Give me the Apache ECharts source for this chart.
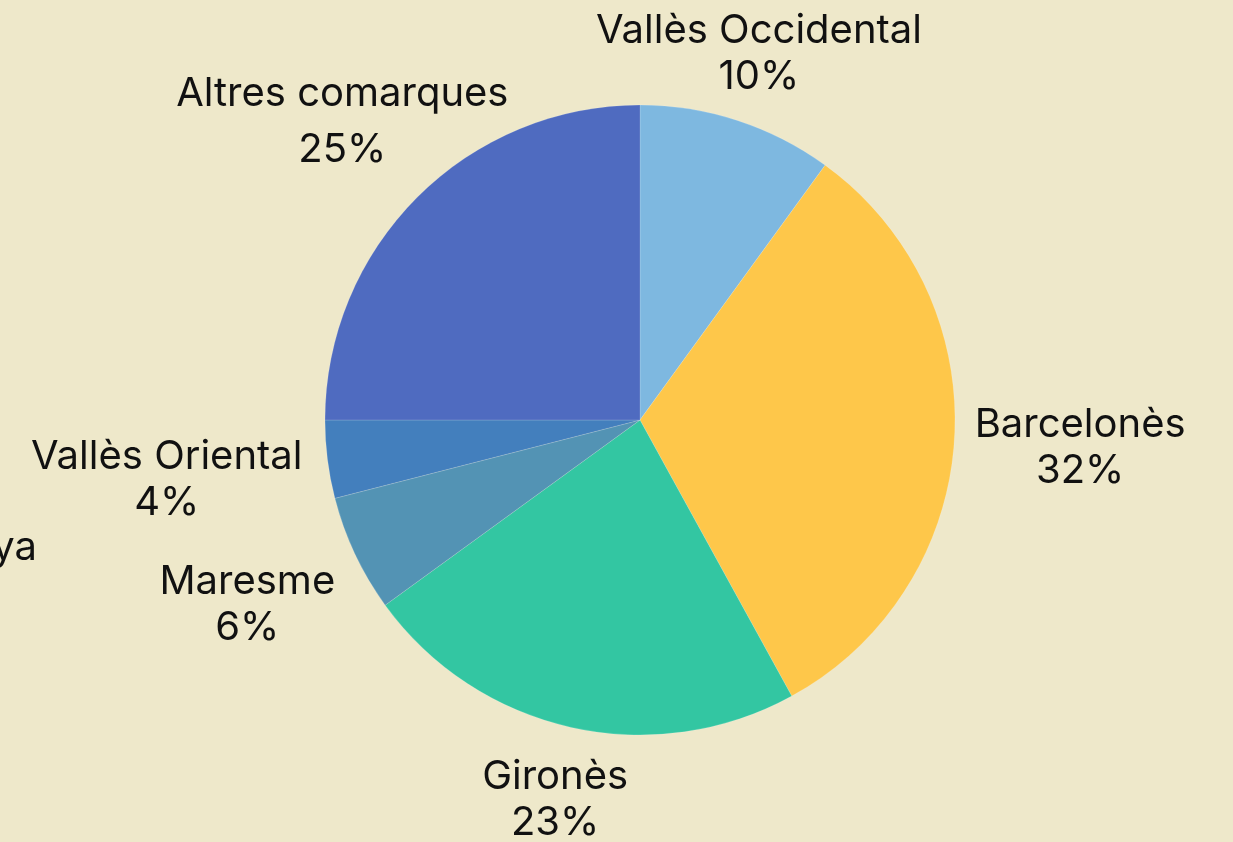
<!DOCTYPE html>
<html>
<head>
<meta charset="utf-8">
<script src="https://cdn.jsdelivr.net/npm/echarts@6/dist/echarts.min.js"></script>
<style>
  html, body { margin: 0; padding: 0; background: #EEE8CA; }
  #chart { width: 1233px; height: 842px; }
</style>
</head>
<body>
<div id="chart"></div>
<script>
const categories = ['Vallès Occidental', 'Barcelonès', 'Gironès', 'Maresme', 'Vallès Oriental', 'Altres comarques']
const shares = [10, 32, 23, 6, 4, 25]
const colors = ['#7EB8E0', '#FEC74A', '#33C6A2', '#5393B4', '#437FBD', '#4F6BC0']
// distance from the pie centre to the middle of each label
const labelRadius = [385, 441, 389, 434, 477, 421]

const cx = 640
const cy = 420
const radius = 315
const total = shares.reduce((a, b) => a + b, 0)
const labelFont = 'Inter'

function midAngle(i) {
  let before = 0
  for (let k = 0; k < i; k++) before += shares[k]
  return (before + shares[i] / 2) / total * Math.PI * 2
}

const chart = echarts.init(document.getElementById('chart'))
chart.setOption({
  backgroundColor: '#EEE8CA',
  textStyle: { fontFamily: labelFont },
  graphic: [{
    type: 'text',
    style: {
      x: 37,
      y: 568,
      text: 'Catalunya',
      align: 'right',
      verticalAlign: 'bottom',
      font: '40px ' + labelFont,
      fill: '#111'
    }
  }],
  series: [{
    type: 'pie',
    center: [cx, cy],
    radius: radius,
    startAngle: 90,
    clockwise: true,
    animation: false,
    itemStyle: {
      borderColor: 'rgba(255,255,255,0.25)',
      borderWidth: 0.6
    },
    label: {
      show: true,
      position: 'outside',
      formatter: '{b}\n{c}%',
      color: '#111',
      fontSize: 40,
      lineHeight: 46,
      fontFamily: labelFont,
      overflow: 'none'
    },
    labelLine: { show: false },
    labelLayout: function (p) {
      const a = midAngle(p.dataIndex)
      const d = labelRadius[p.dataIndex]
      return {
        x: cx + Math.sin(a) * d,
        y: cy - Math.cos(a) * d,
        align: 'center',
        verticalAlign: 'middle'
      }
    },
    data: categories.map((name, i) => ({
      name: name,
      value: shares[i],
      itemStyle: { color: colors[i] },
      label: i === 5 ? { lineHeight: 56 } : undefined
    }))
  }]
})
</script>
</body>
</html>
